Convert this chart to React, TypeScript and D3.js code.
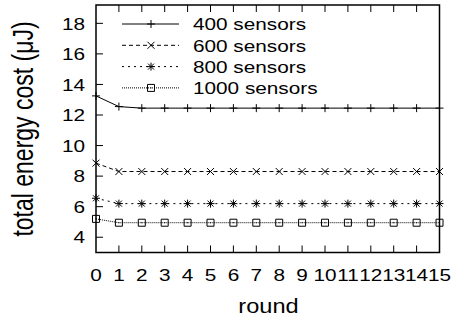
import * as d3 from "d3";

const rounds = [0, 1, 2, 3, 4, 5, 6, 7, 8, 9, 10, 11, 12, 13, 14, 15];
const s400 = [13.25, 12.55, 12.45, 12.45, 12.45, 12.45, 12.45, 12.45, 12.45, 12.45, 12.45, 12.45, 12.45, 12.45, 12.45, 12.45];
const s600 = [8.85, 8.3, 8.3, 8.3, 8.3, 8.3, 8.3, 8.3, 8.3, 8.3, 8.3, 8.3, 8.3, 8.3, 8.3, 8.3];
const s800 = [6.55, 6.2, 6.2, 6.2, 6.2, 6.2, 6.2, 6.2, 6.2, 6.2, 6.2, 6.2, 6.2, 6.2, 6.2, 6.2];
const s1000 = [5.2, 4.95, 4.95, 4.95, 4.95, 4.95, 4.95, 4.95, 4.95, 4.95, 4.95, 4.95, 4.95, 4.95, 4.95, 4.95];
const seriesNames = ["400 sensors", "600 sensors", "800 sensors", "1000 sensors"];
const yTicks = [4, 6, 8, 10, 12, 14, 16, 18];

const W = 456;
const H = 320;
const margin = { left: 96, right: 16.5, top: 5, bottom: 67.5 };
const FONT = "'Liberation Sans', Arial, Helvetica, sans-serif";
const SX = 1.2; // glyphs in the picture are stretched sideways

const dashes = [null, "4,3", "2,4", "1,1"];
const markerTypes = ["plus", "cross", "star", "square"];

function marker(type: string, x: number, y: number, key: string) {
  const r = 4;
  const p = d3.path();
  if (type === "plus" || type === "star") {
    p.moveTo(x - r, y);
    p.lineTo(x + r, y);
    p.moveTo(x, y - r);
    p.lineTo(x, y + r);
  }
  if (type === "cross" || type === "star") {
    const c = type === "star" ? 3 : 3.5;
    p.moveTo(x - c, y - c);
    p.lineTo(x + c, y + c);
    p.moveTo(x - c, y + c);
    p.lineTo(x + c, y - c);
  }
  if (type === "square") {
    p.rect(x - 3.5, y - 3.5, 7, 7);
    const q = 0.5;
    p.moveTo(x - q, y);
    p.lineTo(x + q, y);
  }
  return <path key={key} d={p.toString()} fill="none" stroke="#000" strokeWidth={1} />;
}

export default function App() {
  const x = d3.scaleLinear().domain([0, 15]).range([margin.left, W - margin.right]);
  const y = d3.scaleLinear().domain([3, 19.2]).range([H - margin.bottom, margin.top]);
  const allSeries = [s400, s600, s800, s1000];
  const line = d3
    .line<number>()
    .x((_, i) => x(rounds[i]))
    .y((d) => y(d));

  const x0 = x(0);
  const x1 = x(15);
  const yb = y(3);
  const yt = y(19.2);

  return (
    <svg width={W} height={H} style={{ position: "absolute", left: 0, top: 0 }} fontFamily={FONT}>
      <rect width={W} height={H} fill="#fff" />
      {allSeries.map((s, si) => (
        <g key={si}>
          <path d={line(s) || ""} fill="none" stroke="#000" strokeWidth={1} strokeDasharray={dashes[si] || undefined} />
          {s.map((v, i) => marker(markerTypes[si], x(rounds[i]), y(v), `${si}-${i}`))}
        </g>
      ))}

      {/* legend */}
      {seriesNames.map((name, si) => {
        const ly = 24 + si * 21.3;
        return (
          <g key={name}>
            <line x1={122} x2={179} y1={ly} y2={ly} stroke="#000" strokeWidth={1} strokeDasharray={dashes[si] || undefined} />
            {marker(markerTypes[si], 151, ly, `leg-${si}`)}
            <text transform={`translate(193,${ly + 6.2}) scale(${SX},1)`} fontSize={17.3} fill="#000">
              {name}
            </text>
          </g>
        );
      })}

      {/* frame */}
      <rect x={x0} y={yt} width={x1 - x0} height={yb - yt} fill="none" stroke="#000" strokeWidth={1.5} />

      {/* y ticks */}
      {yTicks.map((t) => (
        <g key={t}>
          <line x1={x0} x2={x0 + 7} y1={y(t)} y2={y(t)} stroke="#000" strokeWidth={1} />
          <text transform={`translate(85,${y(t) + 6.2}) scale(${SX},1)`} textAnchor="end" fontSize={17.3} fill="#000">
            {t}
          </text>
        </g>
      ))}

      {/* x ticks */}
      {rounds.map((r) => (
        <g key={r}>
          {r > 0 && r < 15 && (
            <>
              <line x1={x(r)} x2={x(r)} y1={yb} y2={yb - 7} stroke="#000" strokeWidth={1} />
              <line x1={x(r)} x2={x(r)} y1={yt} y2={yt + 7} stroke="#000" strokeWidth={1} />
            </>
          )}
          <text transform={`translate(${x(r)},${280.5}) scale(${SX},1)`} textAnchor="middle" fontSize={17.3} fill="#000">
            {r}
          </text>
        </g>
      ))}

      {/* axis titles */}
      <text transform={`translate(268.5,313) scale(1.15,1)`} textAnchor="middle" fontSize={20.5} fill="#000">
        round
      </text>
      <text transform={`translate(33,129) rotate(-90) scale(1,1.26)`} textAnchor="middle" fontSize={23} fill="#000">
        total energy cost (μJ)
      </text>
    </svg>
  );
}
